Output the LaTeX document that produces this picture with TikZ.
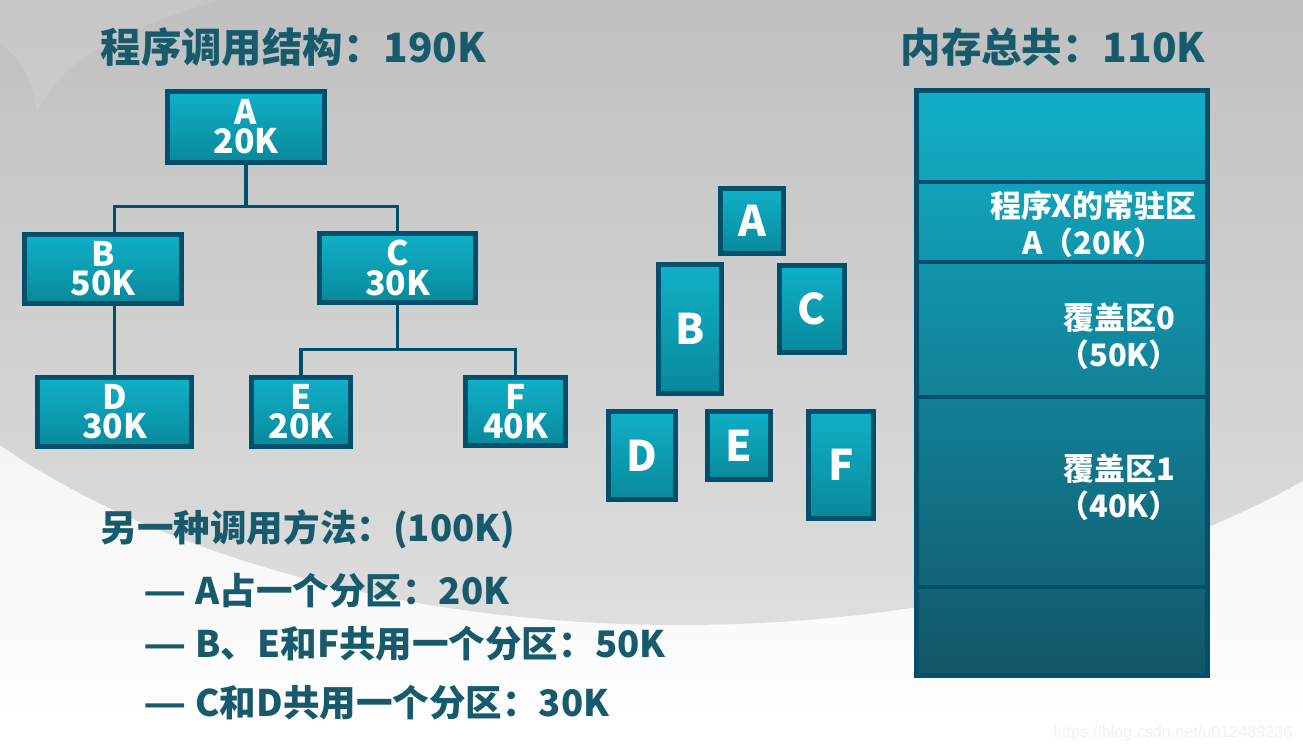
\documentclass[tikz,border=0pt]{standalone}
\usepackage{graphicx}
\usepackage{fontspec}
\setmainfont{Noto Sans CJK SC}
\newfontfamily\urlfont{Liberation Sans}
\usepackage{tikz}
\usetikzlibrary{positioning}
\definecolor{edge}{HTML}{004F6D}
\definecolor{ink}{HTML}{165A6B}
\definecolor{boxtop}{HTML}{10B0C8}
\definecolor{boxbot}{HTML}{08899A}
\definecolor{membot}{HTML}{135568}
\definecolor{bgtop}{HTML}{C0C0C0}
\definecolor{bgmid}{HTML}{DEDEDE}
\definecolor{bglow}{HTML}{E6E6E6}
\newcommand{\dashmark}{\scalebox{1.3}[1]{—}}

\begin{document}
\begin{tikzpicture}[
			box/.style={draw=edge,line width=1.4pt,top color=boxtop,bottom color=boxbot,text=white,align=center,inner sep=0pt,font=\fontsize{9.6}{8.3}\selectfont\bfseries},
			piece/.style={box,font=\fontsize{12}{14}\selectfont\bfseries},
			link/.style={draw=edge,line width=1.1pt},
			sect/.style={draw=edge,line width=1.4pt,minimum width=2.91cm,inner sep=0pt,outer sep=0pt},
			sectext/.style={text=white,align=center,inner sep=0pt,font=\fontsize{8.8}{10.5}\selectfont\bfseries},
			title/.style={anchor=base west,text=ink,inner sep=0pt,font=\fontsize{11.5}{14}\selectfont\bfseries},
			line/.style={anchor=base west,text=ink,inner sep=0pt,font=\fontsize{10.4}{13}\selectfont\bfseries}]
			
			\useasboundingbox (0,0) rectangle (13.03,-7.51);
			\shade[top color=bglow,bottom color=white] (0,0) rectangle (13.03,-7.51);
			\begin{scope}
				\clip (6.8,-1.5) ellipse (8.68cm and 4.75cm);
				\shade[top color=bgtop,bottom color=bgmid] (0,0) rectangle (13.03,-6.25);
			\end{scope}
			\fill[white,opacity=0.1] (0,0) -- (0,-0.43) .. controls (0.25,-0.6) and (0.35,-0.9) .. (0.37,-1.13) .. controls (0.6,-0.6) and (1.2,-0.3) .. (2.2,0) -- cycle;
			
			\node[title] (head1) at (1.00,-0.63) {程序调用结构：190K};
			\node[title] (head2) at (9.00,-0.63) {内存总共：110K};
			
			\node[box,minimum width=1.57cm,minimum height=0.71cm] (A) at (2.46,-1.27) {A\\20K};
			\node[box,minimum width=1.57cm,minimum height=0.69cm] (B) at (1.03,-2.69) {B\\50K};
			\node[box,minimum width=1.56cm,minimum height=0.69cm] (C) at (3.975,-2.68) {C\\30K};
			\node[box,minimum width=1.54cm,minimum height=0.69cm] (D) at (1.145,-4.12) {D\\30K};
			\node[box,minimum width=0.99cm,minimum height=0.69cm] (E) at (3.01,-4.12) {E\\20K};
			\node[box,minimum width=1.00cm,minimum height=0.68cm] (F) at (5.155,-4.115) {F\\40K};
			
			\draw[link] (A.south) -- ++(0,-0.415) coordinate (jA);
			\draw[link] (B.north -| D.north) |- (jA) -| (C.north);
			\draw[link] (B.south -| D.north) -- (D.north);
			\draw[link] (C.south) -- ++(0,-0.445) coordinate (jC);
			\draw[link] (E.north) |- (jC) -| (F.north);
			
			\node[piece,minimum width=0.63cm,minimum height=0.65cm] (pA) at (7.52,-2.21) {A};
			\node[piece,minimum width=0.63cm,minimum height=1.29cm] (pB) at (6.90,-3.29) {B};
			\node[piece,minimum width=0.65cm,minimum height=0.87cm] (pC) at (8.12,-3.09) {C};
			\node[piece,minimum width=0.67cm,minimum height=0.88cm] (pD) at (6.42,-4.555) {D};
			\node[piece,minimum width=0.63cm,minimum height=0.68cm] (pE) at (7.39,-4.455) {E};
			\node[piece,minimum width=0.65cm,minimum height=1.07cm] (pF) at (8.41,-4.65) {F};
			
			\node[sect,minimum height=5.85cm,top color=boxtop,bottom color=membot] (mem) at (10.62,-3.83) {};
			\node[sect,minimum height=0.915cm,below=0pt of mem.north] (m1) {};
			\node[sect,minimum height=0.80cm,below=0pt of m1] (m2) {};
			\node[sect,minimum height=1.35cm,below=0pt of m2] (m3) {};
			\node[sect,minimum height=1.90cm,below=0pt of m3] (m4) {};
			\node[sect,minimum height=0.885cm,below=0pt of m4] (m5) {};
			
			\node[sectext] (t2) at (10.93,-2.24) {程序X的常驻区\\A（20K）};
			\node[sectext] (t3) at (11.19,-3.365) {覆盖区0\\（50K）};
			\node[sectext] (t4) at (11.19,-4.875) {覆盖区1\\（40K）};
			
			\node[line] (l1) at (1.00,-5.41) {另一种调用方法：(100K)};
			\node[line] (l2) at (1.43,-6.04) {\dashmark{} A占一个分区：20K};
			\node[line] (l3) at (1.43,-6.57) {\dashmark{} B、E和F共用一个分区：50K};
			\node[line] (l4) at (1.43,-7.16) {\dashmark{} C和D共用一个分区：30K};
			
			\node[anchor=east,text=gray!10,inner sep=0pt,font=\urlfont\fontsize{4.6}{5}\selectfont] (wm) at (12.93,-7.33) {https://blog.csdn.net/u012489236};
		\end{tikzpicture}
\end{document}
